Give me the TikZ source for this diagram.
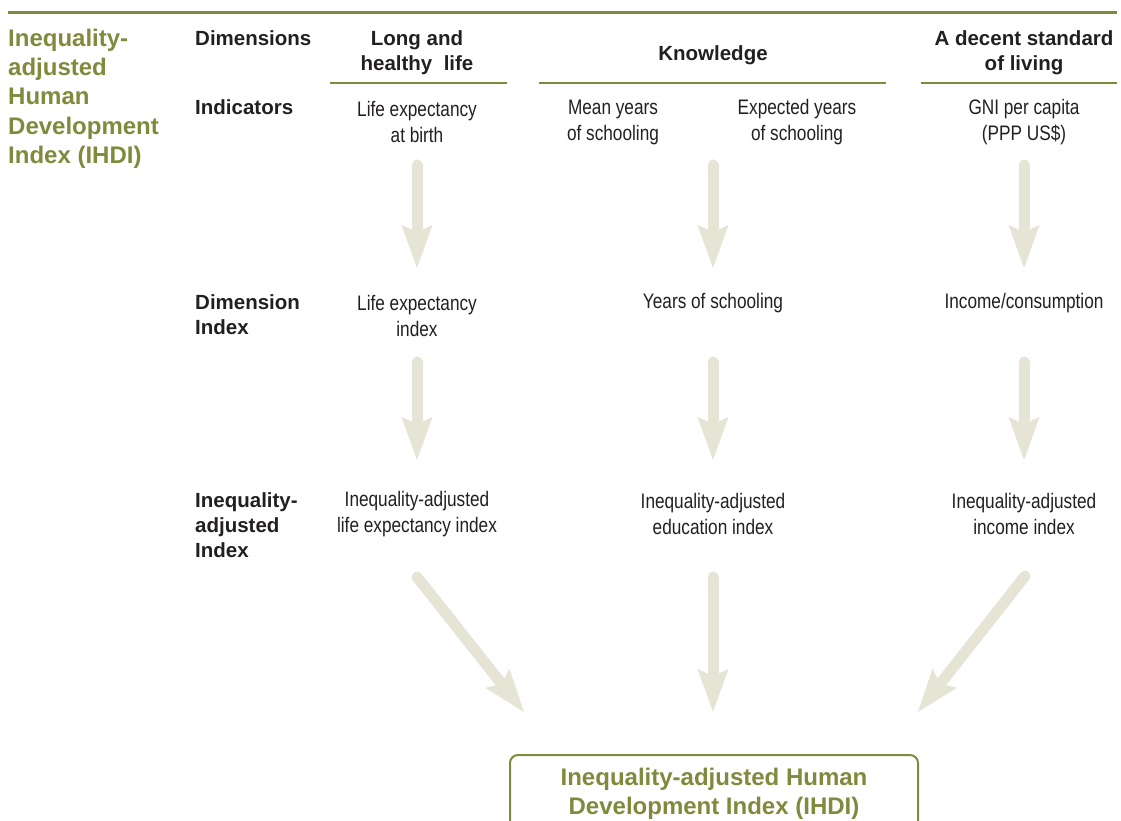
\documentclass[tikz,border=0pt]{standalone}
\usepackage{fontspec}
\setmainfont{Liberation Sans}
\newfontfamily\narrowfont[FakeStretch=0.82]{Liberation Sans}
\usetikzlibrary{arrows.meta}
\definecolor{olive}{RGB}{128,138,60}
\definecolor{arrowc}{RGB}{230,228,213}
\definecolor{ink}{RGB}{35,31,32}
\tikzset{
  hdr/.style={font=\bfseries\fontsize{20.5}{25}\selectfont, text=ink, inner sep=0pt, align=center},
  lbl/.style={font=\bfseries\fontsize{20.5}{25}\selectfont, text=ink, inner sep=0pt, anchor=west, align=left},
  txt/.style={font=\narrowfont\fontsize{21}{26}\selectfont, text=ink, inner sep=0pt, align=center},
  rule/.style={draw=olive, line width=2pt},
  bigarrow/.style={draw=arrowc, line width=11pt, line cap=round,
    -{Stealth[length=43pt, width=31pt, inset=7pt, line width=0pt, fill=arrowc]}},
}
\begin{document}
\begin{tikzpicture}[x=1pt, y=-1pt]
\useasboundingbox (0,0) rectangle (1121,821);
% top rule
\draw[draw=olive, line width=3pt] (8,13) -- (1117,13);
% title
\node[anchor=north west, inner sep=0pt, align=left, text=olive,
  font=\bfseries\fontsize{24}{29.2}\selectfont] (title) at (8,29)
  {Inequality-\\adjusted\\Human\\Development\\Index (IHDI)};
% headers
\node[lbl] (dims) at (195,38.5) {Dimensions};
\node[hdr] (hlong) at (417,52.5) {Long and\\healthy\ \ life};
\node[hdr] (hknow) at (713,55) {Knowledge};
\node[hdr] (hliv) at (1024,52.5) {A decent standard\\of living};
\draw[rule] (330,83) -- (507,83);
\draw[rule] (539,83) -- (886,83);
\draw[rule] (921,83) -- (1117,83);
% indicators row
\node[lbl] (indl) at (195,107) {Indicators};
\node[txt] (i1) at (417,122) {Life expectancy\\at birth};
\node[txt] (i2) at (613,122) {Mean years\\of schooling};
\node[txt] (i3) at (797,122) {Expected years\\of schooling};
\node[txt] (i4) at (1024,122) {GNI per capita\\(PPP US\$)};
% dimension index row
\node[lbl] (dil) at (195,314.5) {Dimension\\Index};
\node[txt] (d1) at (417,316) {Life expectancy\\index};
\node[txt] (d2) at (713,303) {Years of schooling};
\node[txt] (d3) at (1024,303) {Income/consumption};
% inequality-adjusted row
\node[lbl] (ial) at (195,525.5) {Inequality-\\adjusted\\Index};
\node[txt] (a1) at (417,514) {Inequality-adjusted\\life expectancy index};
\node[txt] (a2) at (713,514) {Inequality-adjusted\\education index};
\node[txt] (a3) at (1024,514) {Inequality-adjusted\\income index};
% final box
\node[draw=olive, line width=2pt, rounded corners=8pt, anchor=north,
  minimum width=408pt, minimum height=77pt, inner sep=0pt, align=center,
  text=olive, font=\bfseries\fontsize{24}{29}\selectfont] (ihdi) at (714,754)
  {Inequality-adjusted Human\\Development Index (IHDI)};
% arrow end points
\coordinate (s11) at (417,165); \coordinate (e11) at (417,268);
\coordinate (s12) at (713,165); \coordinate (e12) at (713,268);
\coordinate (s13) at (1024,165); \coordinate (e13) at (1024,268);
\coordinate (s21) at (417,362); \coordinate (e21) at (417,460);
\coordinate (s22) at (713,362); \coordinate (e22) at (713,460);
\coordinate (s23) at (1024,362); \coordinate (e23) at (1024,460);
\coordinate (s31) at (417,577); \coordinate (e31) at (524,712);
\coordinate (s32) at (713,577); \coordinate (e32) at (713,712);
\coordinate (s33) at (1025,576); \coordinate (e33) at (918,712);
\foreach \r in {1,2,3}{\foreach \c in {1,2,3}{\draw[bigarrow] (s\r\c) -- (e\r\c);}}
\end{tikzpicture}
\end{document}
